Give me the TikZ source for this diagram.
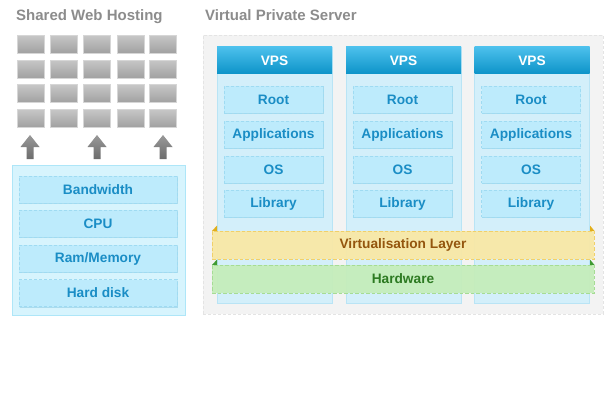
\documentclass[tikz,border=0pt]{standalone}
\usepackage{fontspec}
\setmainfont{Liberation Sans}
\usetikzlibrary{shadows}
\definecolor{titlegray}{HTML}{8C8C8C}
\definecolor{gtop}{HTML}{C6C6C6}
\definecolor{gbot}{HTML}{A0A0A0}
\definecolor{gborder}{HTML}{D6D6D6}
\definecolor{atop}{HTML}{999999}
\definecolor{abot}{HTML}{6C6C6C}
\definecolor{contfill}{HTML}{D7F4FD}
\definecolor{contdraw}{HTML}{AEE6F8}
\definecolor{itemfill}{HTML}{BDEBFC}
\definecolor{itemdraw}{HTML}{9FDBF2}
\definecolor{itemtext}{HTML}{1A8DC5}
\definecolor{itemshadow}{HTML}{8ECCE4}
\definecolor{outerfill}{HTML}{F3F3F3}
\definecolor{outerdraw}{HTML}{E4E4E4}
\definecolor{colfill}{HTML}{D3EFFA}
\definecolor{coldraw}{HTML}{B9E4F5}
\definecolor{htop}{HTML}{4CC0EC}
\definecolor{hbot}{HTML}{0C93C8}
\definecolor{virtfill}{HTML}{F8E8A6}
\definecolor{virtdraw}{HTML}{F0D06A}
\definecolor{virttext}{HTML}{94560E}
\definecolor{virttri}{HTML}{E2AE1A}
\definecolor{hwfill}{HTML}{C5EDBB}
\definecolor{hwdraw}{HTML}{A6DC94}
\definecolor{hwtext}{HTML}{2D7A22}
\definecolor{hwtri}{HTML}{3F9A33}
\begin{document}
\begin{tikzpicture}[x=1pt,y=-1pt,
  titletext/.style={text=titlegray, font=\fontsize{15}{17}\selectfont\bfseries, anchor=base west, inner sep=0pt},
  gbox/.style={draw=gborder, line width=0.8pt, top color=gtop, bottom color=gbot, minimum width=27pt, minimum height=18pt, inner sep=0pt},
  container/.style={draw=contdraw, line width=0.6pt, fill=contfill, inner sep=0pt},
  itembox/.style={draw=itemdraw, line width=0.6pt, dash pattern=on 3pt off 2pt, fill=itemfill, text=itemtext,
    font=\fontsize{13.7}{15}\selectfont\bfseries, minimum height=27pt, inner sep=0pt,
    drop shadow={shadow xshift=0.6pt, shadow yshift=-1pt, fill=itemshadow, opacity=0.6}},
  outerbox/.style={draw=outerdraw, line width=0.6pt, dash pattern=on 3pt off 2pt, fill=outerfill, inner sep=0pt},
  colbox/.style={draw=coldraw, line width=0.6pt, fill=colfill, minimum width=115pt, minimum height=256pt, inner sep=0pt},
  header/.style={top color=htop, bottom color=hbot, text=white, font=\fontsize{13.7}{15}\selectfont\bfseries,
    minimum width=115pt, minimum height=27pt, inner sep=0pt},
  layerbox/.style={line width=0.7pt, dash pattern=on 3.5pt off 2pt, font=\fontsize{13.7}{15}\selectfont\bfseries,
    minimum width=382pt, minimum height=28pt, inner sep=0pt},
  uparrow/.style={top color=atop, bottom color=abot, draw=none}
]
\useasboundingbox (0,0) rectangle (615,409);
\fill[white] (0,0) rectangle (615,409);

% ---------- Shared Web Hosting ----------
\node[titletext] (t1) at (16,21) {Shared Web Hosting};

\foreach \c [count=\i] in {31,64,97,131,163}{
  \foreach \r [count=\j] in {44.5,69.2,93.9,118.6}{
    \node[gbox] (g\i\j) at (\c,\r) {};
  }
}

\foreach \ax/\n in {30/1,97/2,163/3}{
  \shade[uparrow] (\ax-3.5,159) -- (\ax-3.5,147) -- (\ax-9.5,147) -- (\ax,135)
     -- (\ax+9.5,147) -- (\ax+3.5,147) -- (\ax+3.5,159) -- cycle;
}

\node[container, minimum width=173pt, minimum height=150pt] (shared) at (98.5,240) {};
\node[itembox, minimum width=158pt] (bw)  at (98,189.5) {Bandwidth};
\node[itembox, minimum width=158pt] (cpu) at (98,223.5) {CPU};
\node[itembox, minimum width=158pt] (ram) at (98,258.5) {Ram/Memory};
\node[itembox, minimum width=158pt] (hd)  at (98,293)   {Hard disk};

% ---------- Virtual Private Server ----------
\node[titletext] (t2) at (205,21) {Virtual Private Server};
\node[outerbox, minimum width=400pt, minimum height=279pt] (outer) at (403,174.5) {};

\foreach \cx [count=\k] in {274.5,403.5,532}{
  \node[colbox] (col\k) at (\cx,175) {};
  \node[header] (vps\k) at (\cx,60.5) {VPS};
  \node[itembox, minimum width=99pt] (root\k) at (\cx-1,100)  {Root};
  \node[itembox, minimum width=99pt] (app\k)  at (\cx-1,134.5){Applications};
  \node[itembox, minimum width=99pt] (os\k)   at (\cx-1,169.5){OS};
  \node[itembox, minimum width=99pt] (lib\k)  at (\cx-1,203.5){Library};
}

% layers
\fill[virttri] (212,231) -- (217,225.5) -- (217,231) -- cycle;
\fill[virttri] (590,225.5) -- (590,231) -- (594.5,231) -- cycle;
\node[layerbox, draw=virtdraw, fill=virtfill, fill opacity=0.95, text opacity=1, text=virttext] (virt) at (403,245) {Virtualisation Layer};
\fill[hwtri] (212,265) -- (217,259.5) -- (217,265) -- cycle;
\fill[hwtri] (590,259.5) -- (590,265) -- (594.5,265) -- cycle;
\node[layerbox, draw=hwdraw, fill=hwfill, fill opacity=0.95, text opacity=1, text=hwtext] (hw) at (403,279) {Hardware};
\end{tikzpicture}
\end{document}
